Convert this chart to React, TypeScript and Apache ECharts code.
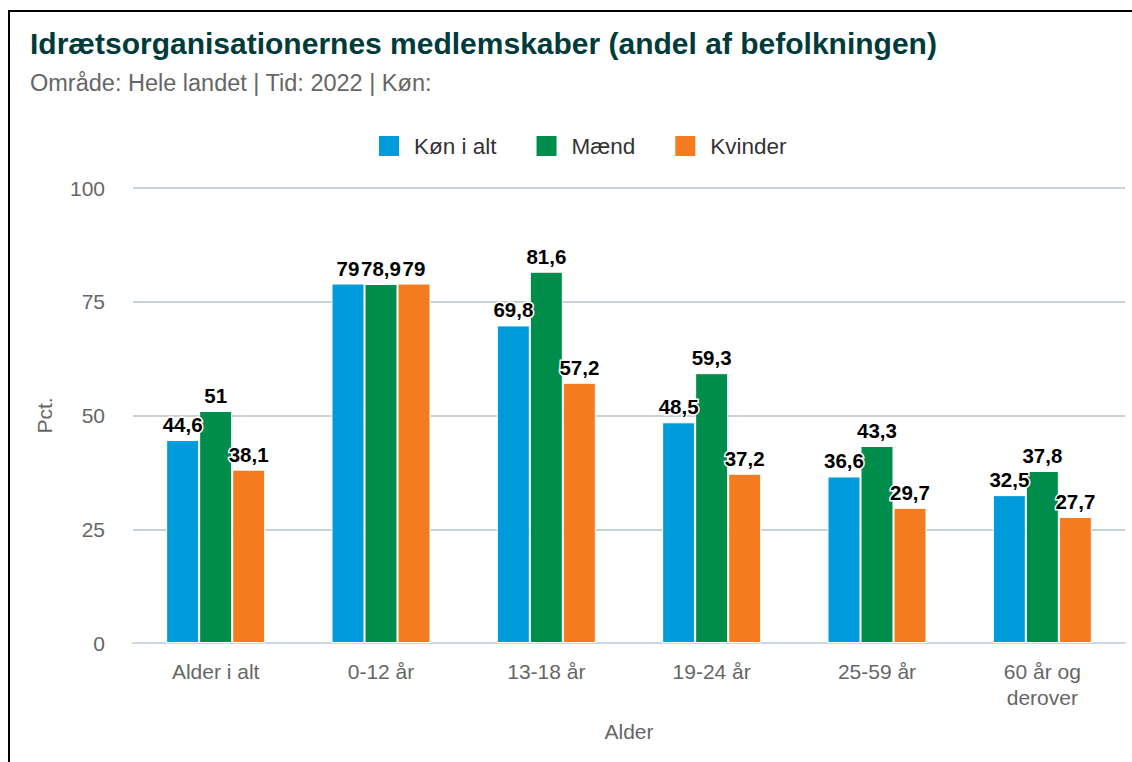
import React, { useEffect, useRef } from "react";
import * as echarts from "echarts";

const categories = ["Alder i alt", "0-12 år", "13-18 år", "19-24 år", "25-59 år", "60 år og\nderover"];
const seriesNames = ["Køn i alt", "Mænd", "Kvinder"];
const konIAlt = [44.6, 79, 69.8, 48.5, 36.6, 32.5];
const maend = [51, 78.9, 81.6, 59.3, 43.3, 37.8];
const kvinder = [38.1, 79, 57.2, 37.2, 29.7, 27.7];
const colors = ["#009bdb", "#008c4a", "#f47b20"];

const FONT = "'Liberation Sans', Arial, Helvetica, sans-serif";

export default function App() {
  const ref = useRef<HTMLDivElement>(null);
  useEffect(() => {
    document.body.style.margin = "0";
    if (!ref.current) return;
    const chart = echarts.init(ref.current, undefined, { renderer: "svg" });
    const values = [konIAlt, maend, kvinder];
    chart.setOption({
      animation: false,
      backgroundColor: "#ffffff",
      textStyle: { fontFamily: FONT },
      title: {
        text: "Idrætsorganisationernes medlemskaber (andel af befolkningen)",
        subtext: "Område: Hele landet | Tid: 2022 | Køn:",
        left: 30,
        top: 28,
        itemGap: 13,
        textStyle: { fontSize: 30, fontWeight: "bold", color: "#003b3b", fontFamily: FONT },
        subtextStyle: { fontSize: 23.5, color: "#666666", fontFamily: FONT },
        padding: 0,
      },
      graphic: [
        {
          type: "rect",
          shape: { x: 9, y: 11, width: 1200, height: 800 },
          style: { fill: "none", stroke: "#000000", lineWidth: 2 },
          silent: true,
          z: 100,
        },
      ],
      legend: {
        top: 134,
        left: 377,
        padding: 0,
        itemWidth: 22,
        itemHeight: 22,
        itemGap: 38,
        icon: "rect",
        textStyle: { fontSize: 22.5, color: "#333333", fontFamily: FONT, padding: [0, 0, 0, 9] },
        data: seriesNames,
      },
      grid: { left: 133, right: 7, top: 188, bottom: 119, containLabel: false },
      xAxis: {
        type: "category",
        data: categories,
        name: "Alder",
        nameLocation: "middle",
        nameGap: 78,
        nameTextStyle: { fontSize: 21, color: "#666666", fontFamily: FONT },
        axisLine: { lineStyle: { color: "#ccd6eb", width: 2 } },
        axisTick: { show: false },
        axisLabel: { fontSize: 21, color: "#666666", margin: 15, lineHeight: 26, fontFamily: FONT, interval: 0 },
      },
      yAxis: {
        type: "value",
        min: 0,
        max: 100,
        interval: 25,
        name: "Pct.",
        nameLocation: "middle",
        nameGap: 78,
        nameTextStyle: { fontSize: 21, color: "#666666", fontFamily: FONT },
        axisLine: { show: false },
        axisTick: { show: false },
        axisLabel: { fontSize: 21, color: "#666666", margin: 28, fontFamily: FONT },
        splitLine: { lineStyle: { color: "#b4c2ca", width: 1.5 } },
      },
      series: seriesNames.map((name, i) => ({
        name,
        type: "bar",
        data: values[i],
        barWidth: 33,
        barGap: "0%",
        itemStyle: { color: colors[i], borderColor: "#ffffff", borderWidth: 1 },
        label: {
          show: true,
          position: "top",
          distance: 5,
          fontSize: 20.5,
          fontWeight: "bold",
          color: "#000000",
          fontFamily: FONT,
          textBorderColor: "#ffffff",
          textBorderWidth: 3,
          formatter: (p: any) => String(p.value).replace(".", ","),
        },
      })),
    });
    return () => chart.dispose();
  }, []);
  return <div ref={ref} style={{ width: 1132, height: 762 }} />;
}
